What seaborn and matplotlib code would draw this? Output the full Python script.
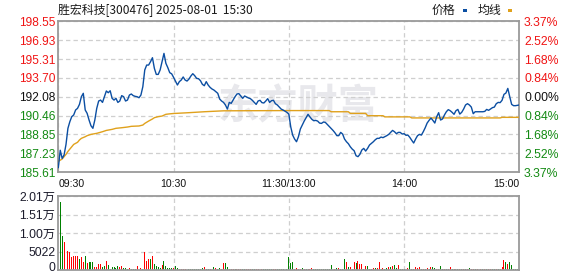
import matplotlib
matplotlib.use("Agg")
import matplotlib.pyplot as plt
from matplotlib.patches import Rectangle
from matplotlib.transforms import ScaledTranslation
import numpy as np
import pandas as pd
import seaborn as sns

# ---------------- data ----------------
title_text = "胜宏科技[300476] 2025-08-01  15:30"
prev_close = 192.08

price = [
    186.00, 187.50, 186.80, 187.10, 188.00, 189.38, 189.95, 190.38, 190.52, 190.95,
    191.09, 191.43, 192.09, 192.38, 190.95, 190.66, 190.09, 189.60, 189.38, 190.09,
    191.09, 191.72, 191.80, 191.60, 192.09, 192.58, 192.43, 192.60, 191.95, 191.80,
    191.95, 191.60, 191.72, 192.18, 192.09, 191.72, 191.80, 192.23, 192.32, 192.18,
    192.12, 192.09, 192.00, 192.23, 192.95, 194.38, 194.80, 194.80, 195.09, 195.43,
    194.52, 194.00, 194.00, 194.38, 195.09, 195.80, 194.95, 194.58, 194.15, 194.05,
    193.75, 193.43, 193.09, 193.38, 193.52, 193.78, 193.52, 193.43, 193.60, 193.86,
    194.06, 193.89, 193.66, 193.63, 193.46, 193.15, 193.03, 193.38, 193.09, 192.89,
    192.75, 192.66, 192.52, 192.38, 191.89, 191.72, 191.60, 191.38, 191.03, 191.60,
    191.52, 191.80, 192.09, 192.32, 192.35, 192.15, 191.95, 192.15, 192.06, 191.98,
    191.92, 191.78, 191.60, 191.43, 191.72, 191.78, 191.58, 191.55, 191.72, 191.92,
    191.60, 191.75, 191.78, 191.49, 191.38, 191.20, 191.03, 190.95, 190.85, 190.75,
    190.60, 189.50, 188.80, 188.46, 188.23, 188.66, 189.32, 189.66, 190.00, 190.29,
    190.58, 190.35, 190.15, 190.03, 190.06, 190.00, 189.83, 189.80, 189.92, 189.89,
    189.72, 189.55, 189.38, 189.20, 189.00, 188.75, 188.75, 189.03, 188.89, 188.46,
    188.23, 188.06, 187.80, 187.60, 187.46, 187.03, 186.95, 187.15, 187.52, 187.66,
    187.43, 187.66, 187.95, 188.09, 188.23, 188.40, 188.52, 188.52, 188.63, 188.58,
    188.66, 188.75, 188.86, 189.03, 189.20, 189.09, 188.92, 189.03, 189.03, 188.89,
    188.92, 188.78, 188.80, 188.60, 188.35, 188.12, 188.46, 188.75, 188.86, 188.80,
    189.09, 189.43, 189.83, 190.06, 190.26, 190.06, 189.83, 190.38, 190.72, 190.09,
    190.18, 190.52, 190.80, 190.98, 190.89, 190.75, 190.58, 190.89, 191.00, 190.60,
    190.75, 191.03, 191.38, 191.49, 191.38, 191.20, 190.63, 190.80, 190.80, 190.80,
    190.80, 190.80, 190.83, 191.00, 190.92, 191.03, 191.15, 191.20, 191.49, 191.60,
    191.58, 191.78, 192.29, 192.40, 192.80, 192.09, 191.43, 191.32, 191.32, 191.35,
    191.38,
]

avg_minutes = [0, 2, 4, 5, 7, 8, 10, 11, 12, 14, 15, 17, 20, 23, 25, 28, 30, 33, 36, 38,
               42, 44, 45, 47, 49, 50, 52, 54, 56, 58, 60, 68, 76, 86, 120, 141, 142, 151,
               152, 160, 161, 169, 170, 183, 184, 230, 231, 240]
avg_values = [186.55, 186.75, 187.15, 187.40, 187.80, 188.00, 188.18, 188.38, 188.52, 188.66,
              188.75, 188.86, 188.95, 189.09, 189.20, 189.29, 189.38, 189.43, 189.49, 189.55,
              189.58, 189.66, 189.80, 190.00, 190.18, 190.29, 190.38, 190.43, 190.58, 190.62,
              190.65, 190.72, 190.80, 190.88, 190.90, 190.90, 190.80, 190.80, 190.66, 190.66,
              190.46, 190.46, 190.36, 190.36, 190.27, 190.27, 190.32, 190.32]

volume = [
    0, 18500, 9300, 7600, 4100, 5300, 4900, 3500, 3800, 3800,
    3800, 3000, 3500, 2200, 3800, 1900, 2200, 2200, 2200, 800,
    800, 1600, 1600, 800, 1100, 2500, 1400, 300, 800, 800,
    500, 1100, 800, 1100, 500, 500, 300, 500, 300, 300,
    300, 1100, 500, 500, 300, 4900, 2500, 3000, 3000, 3800,
    1600, 1100, 800, 500, 1400, 2500, 1100, 500, 500, 500,
    500, 1100, 550, 270, 270, 270, 270, 270, 270, 270,
    270, 270, 270, 270, 270, 550, 820, 270, 270, 270,
    270, 820, 550, 270, 550, 270, 1900, 1900, 820, 270,
    270, 270, 270, 270, 270, 270, 270, 270, 270, 270,
    270, 270, 270, 270, 270, 550, 270, 270, 270, 270,
    270, 270, 270, 270, 270, 270, 270, 270, 270, 270,
    3500, 1900, 2200, 270, 550, 270, 270, 550, 270, 270,
    270, 270, 550, 270, 270, 270, 270, 270, 270, 270,
    270, 270, 1400, 820, 270, 550, 550, 270, 270, 3000,
    2200, 820, 820, 270, 2200, 1900, 2500, 1600, 1600, 270,
    1100, 1100, 270, 270, 550, 550, 550, 2200, 270, 550,
    270, 550, 820, 820, 1100, 1400, 550, 1400, 270, 270,
    270, 270, 550, 2200, 270, 270, 820, 550, 820, 270,
    270, 270, 550, 270, 820, 820, 550, 270, 270, 1100,
    270, 270, 270, 270, 820, 270, 270, 270, 270, 270,
    270, 270, 270, 270, 550, 270, 270, 270, 270, 270,
    270, 270, 270, 270, 270, 270, 270, 270, 270, 270,
    270, 820, 2700, 2200, 1600, 2200, 1400, 270, 270, 270,
    2500,
]

vol_dir = ("gggrrrrrrr" "rgrrgrgggr" "rrrggrgggg" "ggrrgggrgg" "grgrgrrrgr"
           "ggggrggggg" "rggrrrrggg" "ggggggrggr" "ggrggrrggr" "rrgrrrggrr"
           "rggrrgrggg" "ggrrgggggg" "gggrrrrgrg" "rrrggggggg" "ggggrgrggg"
           "rgrgrgrrrg" "rggrrgrrgr" "ggrgrggrgg" "grrggrrrrg" "rgrgrggrrg"
           "grgrrggrgr" "grgrgrrgrg" "rgrgrrggrg" "rrrgrggggg" "r")

price_ticks = [185.61, 187.23, 188.85, 190.46, 192.08, 193.70, 195.31, 196.93, 198.55]
pct_labels = ["3.37%", "2.52%", "1.68%", "0.84%", "0.00%", "0.84%", "1.68%", "2.52%", "3.37%"]
vol_ticks = [0, 5022, 10044, 15066, 20088]
vol_labels = ["0", "5022", "1.00万", "1.51万", "2.01万"]
time_ticks = [0, 60, 120, 180, 240]
time_labels = ["09:30", "10:30", "11:30/13:00", "14:00", "15:00"]

# ---------------- style ----------------
sns.set_style("white")
plt.rcParams["font.family"] = ["Liberation Sans", "Noto Sans CJK SC", "DejaVu Sans"]

RED = "#f01414"
GREEN = "#138a13"
BLUE = "#0b4ea2"
ORANGE = "#e0a11c"
GRID = "#cfcfcf"
SPINE = "#9a9a9a"

minutes = np.arange(len(price))
df_p = pd.DataFrame({"minute": minutes, "price": price})
df_a = pd.DataFrame({"minute": avg_minutes, "avg": avg_values})
df_v = pd.DataFrame({"minute": minutes, "volume": volume, "dir": list(vol_dir)})

fig = plt.figure(figsize=(5.78, 2.76), dpi=100)
ax = fig.add_axes([0.1009, 0.3757, 0.7976, 0.5471])
axv = fig.add_axes([0.1009, 0.0207, 0.7976, 0.2692])

# watermark
ax.text(0.52, 0.43, "东方财富", transform=ax.transAxes, ha="center", va="center",
        fontsize=29, fontweight="bold", color="#e8e8ec", zorder=0,
        family=["Noto Sans CJK SC"])

sns.lineplot(data=df_a, x="minute", y="avg", ax=ax, color=ORANGE, linewidth=1.0, zorder=3)
sns.lineplot(data=df_p, x="minute", y="price", ax=ax, color=BLUE, linewidth=1.0, zorder=4)

ax.set_xlim(0, 240)
ax.set_ylim(price_ticks[0], price_ticks[-1])
ax.set_yticks(price_ticks)
ax.set_yticklabels([f"{v:.2f}" for v in price_ticks], fontsize=8.6)
for lab, v in zip(ax.get_yticklabels(), price_ticks):
    lab.set_color(RED if v > prev_close + 1e-6 else (GREEN if v < prev_close - 1e-6 else "#111111"))
ax.set_xticks(time_ticks)
ax.set_xticklabels(time_labels, fontsize=7.6, color="#111111")
xl = ax.get_xticklabels()
xl[0].set_horizontalalignment("left")
xl[-1].set_horizontalalignment("right")
ax.tick_params(axis="both", length=0)
ax.tick_params(axis="y", pad=2.2)
ax.tick_params(axis="x", pad=4.5)
ax.set_xlabel("")
ax.set_ylabel("")
ax.grid(True, color=GRID, linestyle=(0, (3.5, 2.5)), linewidth=0.9)
ax.set_axisbelow(True)
for s in ax.spines.values():
    s.set_color(SPINE)
    s.set_linewidth(1.3)

axr = ax.twinx()
axr.set_ylim(ax.get_ylim())
axr.set_yticks(price_ticks)
axr.set_yticklabels(pct_labels, fontsize=8.8)
for lab, v in zip(axr.get_yticklabels(), price_ticks):
    lab.set_color(RED if v > prev_close + 1e-6 else (GREEN if v < prev_close - 1e-6 else "#111111"))
axr.tick_params(axis="y", length=0, pad=3.4)
for s in axr.spines.values():
    s.set_visible(False)

# volume bars
sns.barplot(data=df_v, x="minute", y="volume", hue="dir", palette={"r": "#ff0000", "g": "#008000"},
            native_scale=True, width=0.5, saturation=1, errorbar=None, legend=False,
            dodge=False, ax=axv, linewidth=0)
axv.set_xlim(0, 240)
axv.set_ylim(0, vol_ticks[-1])
axv.set_yticks(vol_ticks)
axv.set_yticklabels(vol_labels, fontsize=8.8, color="#1c1c2c")
axv.set_xticks([60, 120, 180])
axv.set_xticklabels([])
axv.tick_params(axis="both", length=0)
axv.tick_params(axis="y", pad=2.2)
axv.set_xlabel("")
axv.set_ylabel("")
axv.grid(True, color=GRID, linestyle=(0, (3.5, 2.5)), linewidth=0.9)
axv.set_axisbelow(True)
for s in axv.spines.values():
    s.set_color(SPINE)
    s.set_linewidth(1.3)
zero_lab = axv.get_yticklabels()[0]
zero_lab.set_transform(zero_lab.get_transform() + ScaledTranslation(0, 2.5 / 72, fig.dpi_scale_trans))

# title and legend
fig.text(58 / 578, 1 - 10 / 276, title_text, ha="left", va="center", fontsize=8.6,
         color="#1a1a1a", family=["Noto Sans CJK SC", "DejaVu Sans"])
fig.text(443 / 578, 1 - 10 / 276, "价格", ha="center", va="center", fontsize=8.6,
         color="#1a1a1a", family=["Noto Sans CJK SC"])
fig.text(489 / 578, 1 - 10 / 276, "均线", ha="center", va="center", fontsize=8.6,
         color="#1a1a1a", family=["Noto Sans CJK SC"])
fig.patches.append(Rectangle((463 / 578, 1 - 11.5 / 276), 4 / 578, 2.5 / 276,
                             transform=fig.transFigure, facecolor=BLUE, edgecolor="none"))
fig.patches.append(Rectangle((508 / 578, 1 - 11.5 / 276), 4 / 578, 2.5 / 276,
                             transform=fig.transFigure, facecolor=ORANGE, edgecolor="none"))

fig.savefig("out.png", dpi=100)
